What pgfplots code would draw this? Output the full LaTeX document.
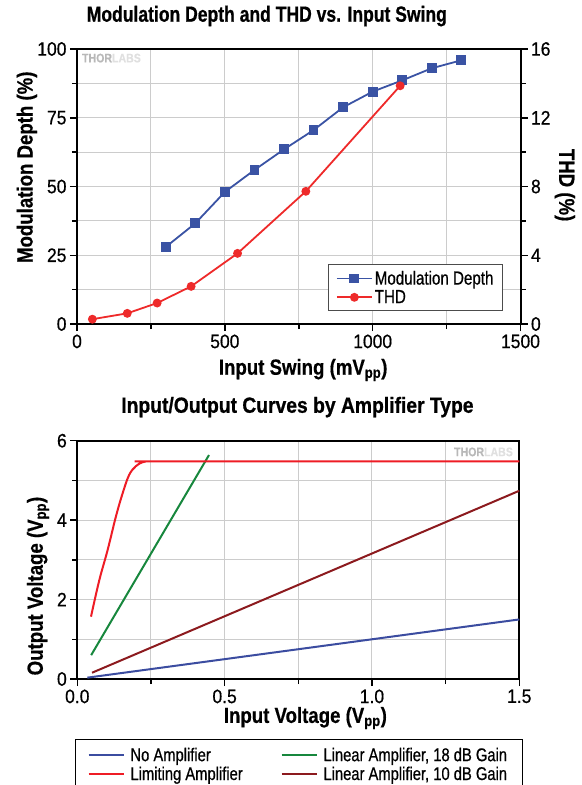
\documentclass[border=0pt]{standalone}
\usepackage{pgfplots}
\pgfplotsset{compat=1.18}
\usepackage{fontspec}
\setmainfont{Liberation Sans}[FakeStretch=0.85, FakeBold=0.5]
\newfontfamily\tickfont{Liberation Sans}[FakeStretch=0.9, FakeBold=0.6]
\newfontfamily\legfont{Liberation Sans}[FakeStretch=0.8, FakeBold=0.6]
\newfontfamily\titlefontA{Liberation Sans}[FakeStretch=0.8, FakeBold=0.7]
\newfontfamily\titlefontB{Liberation Sans}[FakeStretch=0.88, FakeBold=0.7]

\definecolor{mdblue}{HTML}{3A53A4}
\definecolor{thdred}{HTML}{EE2A2A}
\definecolor{noamp}{HTML}{3B4CA0}
\definecolor{limred}{HTML}{EE1C25}
\definecolor{lingreen}{HTML}{17873D}
\definecolor{lindark}{HTML}{8C1A1E}
\definecolor{gridgray}{HTML}{CCCCCC}

\pgfplotsset{
  thor/.style={
    scale only axis,
    tick align=outside,
    major tick length=7bp,
    minor tick length=5bp,
    every tick/.style={black, line width=1.5bp},
    axis line style={line width=2bp},
    tick label style={font=\tickfont\fontsize{19.5}{19.5}\selectfont},
    /pgf/number format/assume math mode=true,
    /pgf/number format/1000 sep={},
    label style={font=\bfseries\fontsize{22}{23}\selectfont},
    major grid style={gridgray, line width=1bp},
    minor grid style={gridgray, line width=1bp},
  },
}

\begin{document}
\begin{tikzpicture}
\useasboundingbox (0,0) rectangle (582bp,-785bp);

% top chart, left axis
\begin{axis}[thor,
  at={(77bp,-324bp)}, anchor=south west,
  width=443.5bp, height=275bp,
  xmin=0, xmax=1500, ymin=0, ymax=100,
  xtick={0,500,1000,1500}, minor xtick={250,750,1250},
  ytick={0,25,50,75,100}, minor ytick={12.5,37.5,62.5,87.5},
  xtick pos=left, ytick pos=left,
  grid=both,
  title={Modulation Depth and THD vs. Input Swing},
  title style={font=\titlefontA\bfseries\fontsize{22}{24}\selectfont,
    at={(axis description cs:0.428,1.098)}, anchor=center},
  xlabel={Input Swing (mV\textsubscript{pp})},
  xlabel style={at={(axis description cs:0.51,-0.167)}, anchor=center},
  ylabel={Modulation Depth (\%)},
  ylabel style={at={(axis description cs:-0.113,0.57)}, anchor=center},
]
\node[anchor=west, inner sep=0, font=\bfseries\fontsize{12.5}{12.5}\selectfont, text=black!28]
  at (axis description cs:0.011,0.967) {THOR\textcolor{black!12}{LABS}};
\addplot[mdblue, line width=1.8bp, mark=square*, mark size=4bp] coordinates {
  (300,28) (400,36.6) (500,48) (600,56) (700,63.5) (800,70.5)
  (900,78.8) (1000,84.5) (1100,88.6) (1200,93) (1300,95.9)
};
\end{axis}

% top chart, right axis
\begin{axis}[thor,
  at={(77bp,-324bp)}, anchor=south west,
  width=443.5bp, height=275bp,
  xmin=0, xmax=1500, ymin=0, ymax=16,
  axis y line*=right, axis x line=none,
  ytick={0,4,8,12,16}, minor ytick={2,6,10,14},
  ylabel={THD (\%)},
  ylabel style={at={(axis description cs:1.1,0.505)}, anchor=center, rotate=180},
  legend style={at={(axis description cs:0.9605,0.047)}, anchor=south east,
    draw=black!70, line width=1bp, inner xsep=7bp, inner ysep=4bp,
    font=\legfont\fontsize{19}{20}\selectfont, nodes={inner sep=2bp}},
  legend cell align=left,
  legend image code/.code={\draw[mark repeat=2, mark phase=2, #1]
    plot coordinates {(0bp,0bp) (17.5bp,0bp) (35bp,0bp)};},
]
\addlegendimage{mdblue, line width=1.8bp, mark=square*, mark size=4bp}
\addlegendentry{Modulation Depth}
\addplot[thdred, line width=1.8bp, mark=*, mark size=3.5bp] coordinates {
  (52,0.28) (170,0.62) (271,1.22) (386,2.19) (543,4.11) (774,7.72) (1093,13.86)
};
\addlegendentry{THD}
\end{axis}

% bottom chart
\begin{axis}[thor,
  at={(77.3bp,-679bp)}, anchor=south west,
  width=442bp, height=238.3bp,
  xmin=0, xmax=1.5, ymin=0, ymax=6,
  xtick={0,0.5,1,1.5}, xticklabels={0.0,0.5,1.0,1.5}, minor xtick={0.25,0.75,1.25},
  ytick={0,2,4,6}, minor ytick={1,3,5},
  xtick pos=left, ytick pos=left,
  grid=both,
  title={Input/Output Curves by Amplifier Type},
  title style={font=\titlefontB\bfseries\fontsize{22}{24}\selectfont,
    at={(axis description cs:0.498,1.116)}, anchor=center},
  xlabel={Input Voltage (V\textsubscript{pp})},
  xlabel style={at={(axis description cs:0.516,-0.164)}, anchor=center},
  ylabel={Output Voltage (V\textsubscript{pp})},
  ylabel style={at={(axis description cs:-0.089,0.39)}, anchor=center},
  legend columns=2,
  legend style={at={(axis description cs:-0.0052,-0.253)}, anchor=north west,
    draw=black, line width=1bp, inner xsep=12bp, inner ysep=6bp,
    font=\legfont\fontsize{18.5}{19.5}\selectfont, nodes={inner sep=2bp},
    /tikz/every even column/.append style={column sep=6bp}},
  legend cell align=left,
  legend image code/.code={\draw[#1] (0bp,0bp) -- (35bp,0bp); \path (39bp,0bp);},
]
\node[anchor=east, inner sep=0, font=\bfseries\fontsize{12.5}{12.5}\selectfont, text=black!28]
  at (axis description cs:0.986,0.953) {THOR\textcolor{black!12}{LABS}};
\addplot[noamp, line width=2bp] coordinates {(0.034,0.034) (0.5,0.5) (1.0,1.0) (1.5,1.5)};
\addlegendentry{\makebox[142bp][l]{No Amplifier}}
\addplot[lingreen, line width=2bp] coordinates {(0.047,0.60) (0.447,5.64)};
\addlegendentry{\makebox[185bp][l]{Linear Amplifier, 18 dB Gain}}
\addplot[limred, line width=2bp, smooth, tension=0.6] coordinates {
  (0.0465,1.57) (0.0747,2.49) (0.103,3.25) (0.131,4.09) (0.154,4.68)
  (0.176,5.14) (0.199,5.36) (0.222,5.46) (0.245,5.48) (0.3,5.48) (1.5,5.48)
};
\addlegendentry{\makebox[142bp][l]{Limiting Amplifier}}
\addplot[lindark, line width=2bp] coordinates {(0.05,0.158) (0.5,1.58) (1.0,3.16) (1.5,4.74)};
\addlegendentry{\makebox[185bp][l]{Linear Amplifier, 10 dB Gain}}
\end{axis}
\end{tikzpicture}
\end{document}
